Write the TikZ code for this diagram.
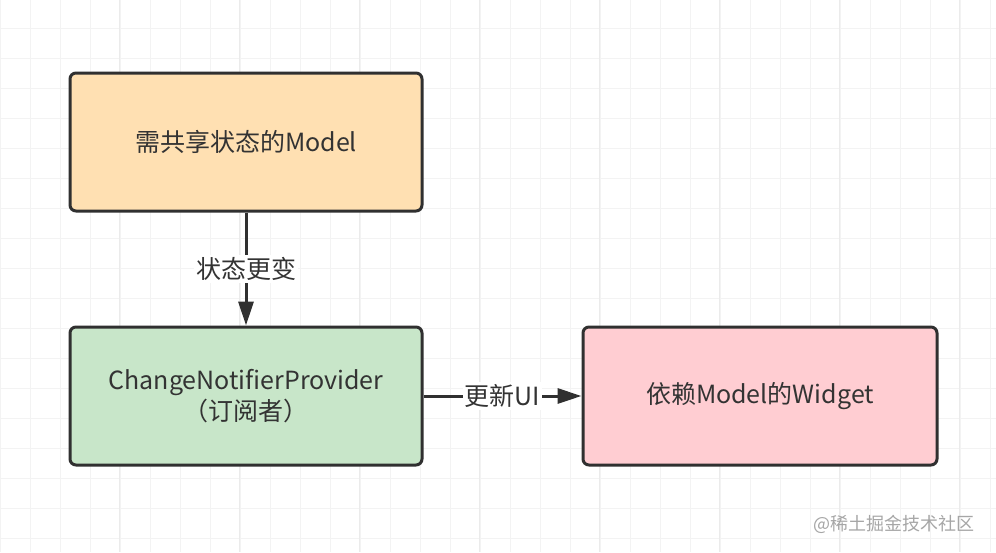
\documentclass[tikz,border=0pt]{standalone}
\usepackage{fontspec}
\newfontfamily\cjk{Noto Sans CJK SC}
\usepackage{tikz}
\usetikzlibrary{positioning}
\usetikzlibrary{arrows.meta}

\definecolor{gridline}{HTML}{F3F3F3}
\definecolor{gridmajor}{HTML}{EBEBEB}
\definecolor{edgeline}{HTML}{303030}
\definecolor{textdark}{HTML}{333333}
\definecolor{modelfill}{HTML}{FFE0B2}
\definecolor{providerfill}{HTML}{C8E6C9}
\definecolor{widgetfill}{HTML}{FFCDD2}

\begin{document}
\begin{tikzpicture}[x=1pt,y=-1pt,
  font=\cjk\fontsize{25}{31}\selectfont, text=textdark,
  box/.style={draw=edgeline, line width=3pt, rounded corners=6pt,
    minimum width=352pt, minimum height=138pt, align=center},
  link/.style={draw=edgeline, line width=3pt, -{Triangle[length=24pt,width=15pt]}},
  linklabel/.style={fill=white, inner sep=2pt}]
\useasboundingbox (0,0) rectangle (996,552);
\fill[white] (0,0) rectangle (996,552);

% grid
\foreach \i in {0,...,33} {
  \draw[gridline, line width=1pt] (30*\i,0) -- (30*\i,552);
}
\foreach \j in {1,...,19} {
  \draw[gridline, line width=1pt] (0,30*\j-2) -- (996,30*\j-2);
}
\foreach \i in {1,...,8} {
  \draw[gridmajor, line width=1pt] (120*\i-1,0) -- (120*\i-1,552);
}

\node[box, fill=modelfill] (model) at (246,142) {需共享状态的Model};
\node[box, fill=providerfill, below=113pt of model] (provider) {ChangeNotifierProvider\\（订阅者）};
\node[box, fill=widgetfill, right=158pt of provider, minimum width=354pt] (widget) {依赖Model的Widget};

\draw[link] (model) -- node[linklabel] {状态更变} (provider);
\draw[link] (provider) -- node[linklabel] {更新UI} (widget);

\node[text=gray!70, font=\cjk\fontsize{18}{20}\selectfont, anchor=east] (mark) at (978,524) {@稀土掘金技术社区};
\end{tikzpicture}
\end{document}
